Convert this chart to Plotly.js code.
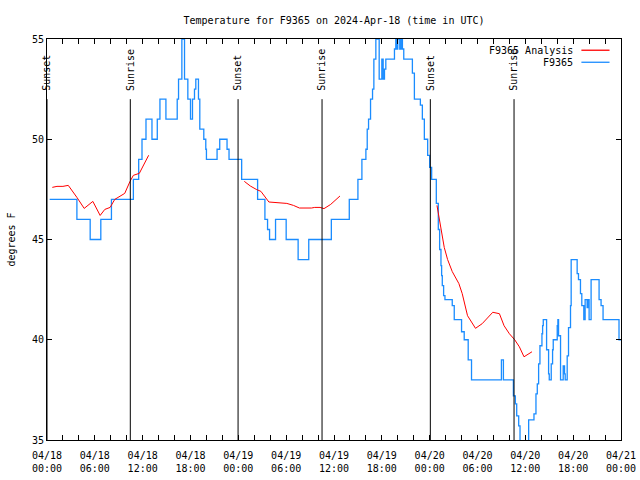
<!DOCTYPE html>
<html>
<head>
<meta charset="utf-8">
<script src="https://cdn.plot.ly/plotly-3.0.1.min.js"></script>
<style>html,body{margin:0;padding:0;background:#fff}#chart{width:640px;height:480px}</style>
</head>
<body>
<div id="chart"></div>
<script>
// Observed station temperature (F9365), step-like readings
var obsTime = [
'2024-04-18 00:20','2024-04-18 03:45','2024-04-18 05:25','2024-04-18 06:45','2024-04-18 08:05',
'2024-04-18 10:50','2024-04-18 11:30','2024-04-18 11:55','2024-04-18 12:25','2024-04-18 13:10',
'2024-04-18 13:50','2024-04-18 14:10','2024-04-18 14:55','2024-04-18 16:20','2024-04-18 16:30',
'2024-04-18 16:55','2024-04-18 17:15','2024-04-18 17:40','2024-04-18 18:00','2024-04-18 18:15',
'2024-04-18 18:30','2024-04-18 18:40','2024-04-18 19:00','2024-04-18 19:10','2024-04-18 19:40',
'2024-04-18 19:55','2024-04-18 20:00','2024-04-18 21:20','2024-04-18 21:40','2024-04-18 22:35',
'2024-04-18 22:50','2024-04-19 00:25','2024-04-19 02:25','2024-04-19 03:20','2024-04-19 03:40',
'2024-04-19 03:55','2024-04-19 04:40','2024-04-19 06:00','2024-04-19 07:30','2024-04-19 08:50',
'2024-04-19 11:40','2024-04-19 13:55','2024-04-19 15:00','2024-04-19 15:30','2024-04-19 16:00',
'2024-04-19 16:10','2024-04-19 16:20','2024-04-19 16:35','2024-04-19 16:50','2024-04-19 17:00',
'2024-04-19 17:15','2024-04-19 17:40','2024-04-19 18:00','2024-04-19 18:10','2024-04-19 18:20',
'2024-04-19 18:30','2024-04-19 19:35','2024-04-19 19:45','2024-04-19 19:55','2024-04-19 20:00',
'2024-04-19 20:15','2024-04-19 20:25','2024-04-19 20:35','2024-04-19 20:45','2024-04-19 21:50',
'2024-04-19 22:05','2024-04-19 22:50','2024-04-19 23:05','2024-04-19 23:20','2024-04-19 23:45',
'2024-04-20 00:00','2024-04-20 00:15','2024-04-20 00:50','2024-04-20 01:05','2024-04-20 01:15',
'2024-04-20 01:25','2024-04-20 01:30','2024-04-20 01:35','2024-04-20 01:45','2024-04-20 01:55',
'2024-04-20 02:50','2024-04-20 03:05','2024-04-20 04:00','2024-04-20 04:20','2024-04-20 04:50',
'2024-04-20 05:15','2024-04-20 09:00','2024-04-20 09:15','2024-04-20 10:30','2024-04-20 10:45',
'2024-04-20 10:55','2024-04-20 11:10','2024-04-20 11:20','2024-04-20 12:25','2024-04-20 13:05',
'2024-04-20 13:20','2024-04-20 13:30','2024-04-20 13:40','2024-04-20 13:50','2024-04-20 14:05',
'2024-04-20 14:10','2024-04-20 14:15','2024-04-20 14:40','2024-04-20 14:55','2024-04-20 15:00',
'2024-04-20 15:15','2024-04-20 15:25','2024-04-20 15:30','2024-04-20 16:00','2024-04-20 16:05',
'2024-04-20 16:10','2024-04-20 16:25','2024-04-20 16:45','2024-04-20 16:55','2024-04-20 17:00',
'2024-04-20 17:15','2024-04-20 17:25','2024-04-20 17:40','2024-04-20 17:45','2024-04-20 18:30',
'2024-04-20 18:40','2024-04-20 18:55','2024-04-20 19:05','2024-04-20 19:20','2024-04-20 19:30',
'2024-04-20 19:45','2024-04-20 19:50','2024-04-20 20:00','2024-04-20 20:15','2024-04-20 21:15',
'2024-04-20 21:30','2024-04-20 21:45','2024-04-20 23:45','2024-04-21 00:00'
];
var obsTemp = [
47,46,45,46,47,
48,49,50,51,50,
51,52,51,52,53,
55,53,52,51,52,
52.5,53,52,50.5,50,
49.5,49,49.5,50,49.5,
49,48,47,46,45.5,
45,46,45,44,45,
46,47,48,49,49.5,
50.5,51,52,52.5,54,
55,53,54,53,53.5,
54,54.5,55,54.5,55,
54.5,55,54.5,54,53.3,
52,51.7,51,50,49.2,
48.6,48,46.8,45.5,44.5,
43.7,43.2,42.7,42.2,42,
41.7,41,40.4,40,39,
38,39,38,37.2,36.8,
36.2,35.7,34.5,36,36.3,
37.3,37.8,38.8,39.7,40.3,
40.7,41,39.5,38.3,38,
38.8,39.5,40,40.7,41,
40.2,38,38.7,38.3,38,
39.2,40.6,41.7,44,43.3,
43,42.3,41.7,41,42,
41.6,42,41,43,42,
41.7,41,40,40
];

// Analysis temperature (three separate runs, null = gap)
var anaTime = [
'2024-04-18 00:40','2024-04-18 01:15','2024-04-18 02:00','2024-04-18 02:40','2024-04-18 03:45',
'2024-04-18 04:40','2024-04-18 05:45','2024-04-18 06:40','2024-04-18 07:15','2024-04-18 07:55',
'2024-04-18 08:30','2024-04-18 08:55','2024-04-18 09:45','2024-04-18 10:25','2024-04-18 10:50',
'2024-04-18 11:35','2024-04-18 12:05','2024-04-18 12:45',
'2024-04-18 18:00',
'2024-04-19 00:45','2024-04-19 01:30','2024-04-19 02:15','2024-04-19 02:50','2024-04-19 03:50',
'2024-04-19 06:05','2024-04-19 06:55','2024-04-19 07:40','2024-04-19 09:10','2024-04-19 09:35',
'2024-04-19 10:15','2024-04-19 10:45','2024-04-19 11:35','2024-04-19 12:45',
'2024-04-19 18:00',
'2024-04-20 00:55','2024-04-20 01:05','2024-04-20 01:25','2024-04-20 01:50','2024-04-20 02:15',
'2024-04-20 02:50','2024-04-20 03:40','2024-04-20 04:05','2024-04-20 04:45','2024-04-20 05:45',
'2024-04-20 06:35','2024-04-20 07:15','2024-04-20 07:55','2024-04-20 08:45','2024-04-20 09:20',
'2024-04-20 10:00','2024-04-20 10:40','2024-04-20 11:15','2024-04-20 11:50','2024-04-20 12:50'
];
var anaTemp = [
47.6,47.65,47.65,47.7,47.1,
46.55,46.9,46.2,46.5,46.6,
47,47.1,47.3,47.9,48.2,
48.3,48.7,49.2,
null,
47.9,47.67,47.5,47.4,46.87,
46.8,46.7,46.57,46.57,46.6,
46.6,46.54,46.75,47.17,
null,
46.7,46.3,45.5,44.6,44,
43.4,42.8,42.3,41.2,40.57,
40.8,41.07,41.37,41.3,40.7,
40.3,40.0,39.65,39.15,39.4
];

var sunEvents = ['Sunset','Sunrise','Sunset','Sunrise','Sunset','Sunrise'];
var sunTimes = ['2024-04-18 00:00','2024-04-18 10:27','2024-04-18 23:58','2024-04-19 10:30','2024-04-20 00:05','2024-04-20 10:35'];

var xRange = ['2024-04-18 00:00', '2024-04-21 00:00'];
var seriesNames = ['F9365 Analysis','F9365'];
var seriesColors = ['#ff0000','#1a8cff'];

var FONT = 'DejaVu Sans Mono, monospace';

var traces = [
  {x: anaTime, y: anaTemp, xaxis: 'x2', yaxis: 'y', mode: 'lines', name: seriesNames[0], connectgaps: false,
   line: {color: seriesColors[0], width: 1}, showlegend: false},
  {x: obsTime, y: obsTemp, mode: 'lines', name: seriesNames[1],
   line: {color: seriesColors[1], width: 1.3, shape: 'hv'}, showlegend: false}
];

var shapes = [];
var annotations = [];
for (var i = 0; i < sunTimes.length; i++) {
  shapes.push({type: 'line', xref: 'x', yref: 'paper', x0: sunTimes[i], x1: sunTimes[i],
    y0: 0, y1: 0.85, line: {color: '#000', width: 1}});
  annotations.push({xref: 'x', yref: 'paper', x: sunTimes[i], y: 0.866, text: sunEvents[i],
    textangle: -90, showarrow: false, xanchor: 'center', yanchor: 'bottom',
    font: {family: FONT, size: 10, color: '#000'}});
}
// legend (gnuplot style: text left, sample right)
var legY = [0.972, 0.942];
for (var j = 0; j < seriesNames.length; j++) {
  annotations.push({xref: 'paper', yref: 'paper', x: 0.919, y: legY[j], text: seriesNames[j],
    showarrow: false, xanchor: 'right', yanchor: 'middle', font: {family: FONT, size: 10, color: '#000'}});
  shapes.push({type: 'line', xref: 'paper', yref: 'paper', x0: 0.931, x1: 0.980,
    y0: legY[j], y1: legY[j], line: {color: seriesColors[j], width: 1.3}});
}

var layout = {
  width: 640, height: 480,
  margin: {l: 47, r: 19, t: 39, b: 40},
  paper_bgcolor: '#fff', plot_bgcolor: '#fff',
  font: {family: FONT, size: 10, color: '#000'},
  title: {text: 'Temperature for F9365 on 2024-Apr-18 (time in UTC)', x: 0.5, xref: 'paper',
    y: 0.958, yref: 'container', yanchor: 'middle', font: {family: FONT, size: 10, color: '#000'}},
  xaxis: {
    type: 'date', range: xRange,
    tick0: '2024-04-18 00:00', dtick: 21600000, tickformat: '%m/%d', ticklabelstandoff: 6,
    ticks: 'inside', ticklen: 5, tickcolor: '#000', showline: true, linecolor: '#000', linewidth: 1,
    mirror: 'ticks', showgrid: false, zeroline: false,
    minor: {dtick: 7200000, ticks: 'inside', ticklen: 5, tickcolor: '#000', showgrid: false},
    tickfont: {family: FONT, size: 10, color: '#000'}
  },
  xaxis2: {
    type: 'date', range: xRange, overlaying: 'x', anchor: 'y', side: 'bottom',
    tick0: '2024-04-18 00:00', dtick: 21600000, tickformat: '%H:%M', ticklabelstandoff: 21,
    ticks: '', showline: false, showgrid: false, zeroline: false,
    tickfont: {family: FONT, size: 10, color: '#000'}
  },
  yaxis: {
    range: [35, 55], dtick: 5, tick0: 35,
    ticks: 'inside', ticklen: 5, tickcolor: '#000', showline: true, linecolor: '#000', linewidth: 1,
    mirror: 'ticks', showgrid: false, zeroline: false,
    tickfont: {family: FONT, size: 10, color: '#000'},
    title: {text: 'degrees F', font: {family: FONT, size: 10, color: '#000'}, standoff: 14}
  },
  shapes: shapes,
  annotations: annotations,
  showlegend: false
};

Plotly.newPlot('chart', traces, layout, {staticPlot: true, displayModeBar: false});
</script>
</body>
</html>
